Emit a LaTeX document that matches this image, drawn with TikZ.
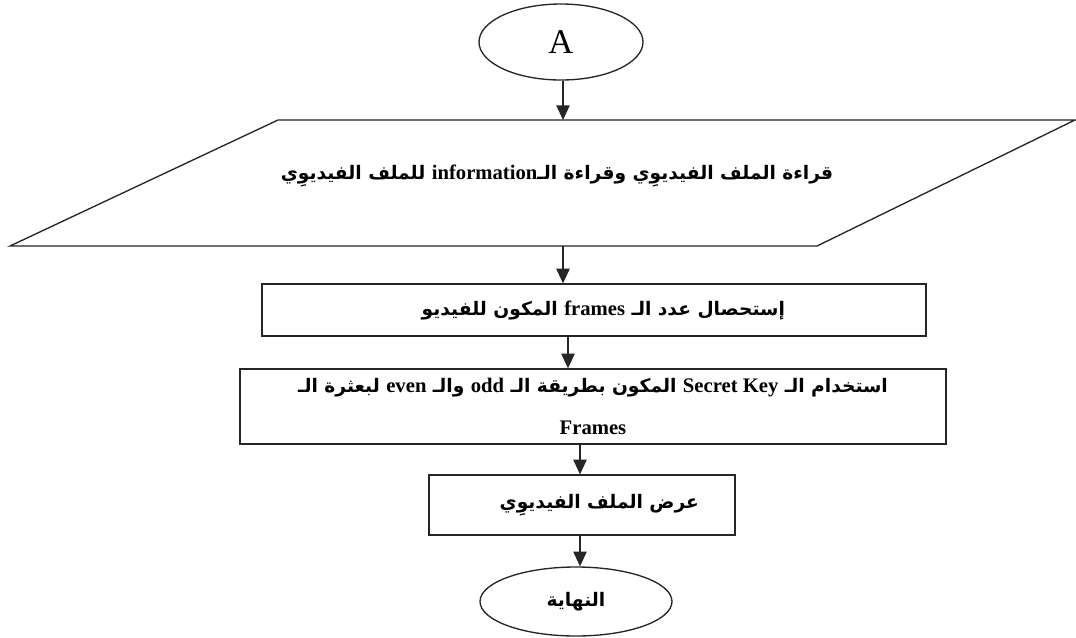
\documentclass[tikz,border=0pt]{standalone}
\usepackage{fontspec}
\setmainfont{Liberation Serif}
\newfontfamily\arabicfont[Script=Arabic]{DejaVu Sans}
\TeXXeTstate=1
\usetikzlibrary{arrows.meta,shapes.geometric}
% Latin words set left to right inside Arabic lines
\newcommand{\lat}[1]{\beginL{\rmfamily\bfseries\fontsize{15.5}{17}\selectfont #1}\endL}
\newcommand{\ar}[1]{{\arabicfont\bfseries\beginR #1\endR}}

\begin{document}
\begin{tikzpicture}[x=0.75pt,y=-0.75pt,
  line/.style={draw=black!85, line width=1pt},
  arr/.style={line, -{Triangle[length=11pt,width=10pt]}},
  boxnode/.style={line, rectangle, inner sep=0pt, align=center,
    font=\fontsize{14}{17}\selectfont},
  ovalnode/.style={line, ellipse, inner sep=0pt, align=center},
  txt/.style={inner sep=0pt, align=center, font=\fontsize{14}{17}\selectfont}]
\useasboundingbox[fill=white] (0,0) rectangle (1076,637);

% start connector
\node[ovalnode, minimum width=123pt, minimum height=57pt,
  font=\fontsize{26}{30}\selectfont] (start) at (561,42) {A};

% input / output parallelogram
\coordinate (pTL) at (278,120);
\coordinate (pTR) at (1075,120);
\coordinate (pBR) at (817,246);
\coordinate (pBL) at (10,246);
\draw[line] (pBL) -- (pBR) -- (pTR) -- (pTL) -- cycle;
\node[txt] (read) at (557,176)
  {\ar{قراءة الملف الفيديوِي وقراءة الـ\lat{information} للملف الفيديوِي}};

% process steps
\node[boxnode, minimum width=498pt, minimum height=39pt] (count) at (594,310)
  {\hspace*{14pt}\ar{إستحصال عدد الـ \lat{frames} المكون للفيديو}};
\node[boxnode, minimum width=529.5pt, minimum height=56.25pt] (scatter) at (593,406.5)
  {\ar{استخدام الـ \lat{Secret Key} المكون بطريقة الـ \lat{odd} والـ \lat{even} لبعثرة الـ}\\[15pt]
   \lat{Frames}};
\node[boxnode, minimum width=229.5pt, minimum height=45pt] (show) at (582,505)
  {\hspace*{26pt}\ar{عرض الملف الفيديوِي}};

% terminator
\node[ovalnode, minimum width=144pt, minimum height=51.75pt,
  font=\fontsize{14}{17}\selectfont] (stop) at (576,601.5) {\ar{النهاية}};

% connectors
\coordinate (inTop) at (563,120);
\coordinate (inBot) at (563,246);
\coordinate (c3) at (568,0);
\coordinate (c4) at (580,0);
\draw[arr] (start.south -| inTop) -- (inTop);
\draw[arr] (inBot) -- (inBot |- count.north);
\draw[arr] (c3 |- count.south) -- (c3 |- scatter.north);
\draw[arr] (c4 |- scatter.south) -- (c4 |- show.north);
\draw[arr] (c4 |- show.south) -- (c4 |- stop.north);
\end{tikzpicture}
\end{document}
